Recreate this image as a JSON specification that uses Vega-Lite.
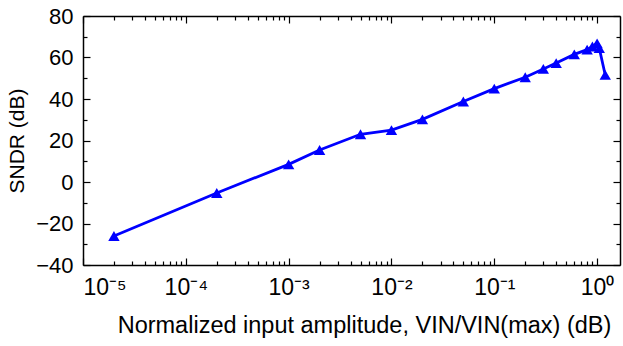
{
  "$schema": "https://vega.github.io/schema/vega-lite/v6.json",
  "width": 537,
  "height": 249,
  "autosize": "none",
  "padding": {"left": 83, "top": 16, "right": 3, "bottom": 81},
  "config": {
    "view": {"stroke": null},
    "axis": {
      "labelFont": "Liberation Sans",
      "titleFont": "Liberation Sans",
      "labelFontSize": 22,
      "titleFontSize": 22,
      "titleFontWeight": "normal",
      "labelColor": "black",
      "titleColor": "black",
      "tickColor": "black",
      "domainColor": "black",
      "domainWidth": 1.5,
      "tickWidth": 1.2,
      "grid": false
    }
  },
  "data": {
    "values": [
      {"amp": 0.00002, "sndr": -26},
      {"amp": 0.0002, "sndr": -5.3},
      {"amp": 0.001, "sndr": 8.5},
      {"amp": 0.002, "sndr": 15.4},
      {"amp": 0.005, "sndr": 23},
      {"amp": 0.01, "sndr": 25},
      {"amp": 0.02, "sndr": 30.2},
      {"amp": 0.05, "sndr": 38.8},
      {"amp": 0.1, "sndr": 45},
      {"amp": 0.2, "sndr": 50.5},
      {"amp": 0.3, "sndr": 54.5},
      {"amp": 0.4, "sndr": 57.3},
      {"amp": 0.6, "sndr": 61.5},
      {"amp": 0.8, "sndr": 63.8},
      {"amp": 0.9, "sndr": 65.3},
      {"amp": 1.0, "sndr": 66.8},
      {"amp": 1.05, "sndr": 64.5},
      {"amp": 1.2, "sndr": 51.6}
    ]
  },
  "layer": [
    {
      "mark": {"type": "line", "color": "#0000ff", "strokeWidth": 2.8},
      "encoding": {
        "x": {
          "field": "amp", "type": "quantitative",
          "scale": {"type": "log", "domain": [0.00001, 1.67], "nice": false},
          "axis": {
            "orient": "bottom",
            "values": [0.00001, 0.0001, 0.001, 0.01, 0.1, 1],
            "labelExpr": "['10⁻⁵','10⁻⁴','10⁻³','10⁻²','10⁻¹','10⁰'][round(log(datum.value)/LN10)+5]",
            "labelFontSize": 23,
            "tickSize": -7,
            "labelPadding": 18,
            "title": "Normalized input amplitude, VIN/VIN(max) (dB)",
            "titleFontSize": 23.5,
            "titlePadding": 14,
            "titleX": 281
          }
        },
        "y": {
          "field": "sndr", "type": "quantitative",
          "scale": {"domain": [-40, 80], "nice": false},
          "axis": {
            "orient": "left",
            "values": [-40, -20, 0, 20, 40, 60, 80],
            "tickSize": -7,
            "labelPadding": 17,
            "title": "SNDR (dB)",
            "titleFontSize": 21,
            "titlePadding": 8
          }
        }
      }
    },
    {
      "mark": {"type": "point", "shape": "triangle-up", "filled": true, "color": "#0000ff", "size": 130, "opacity": 1},
      "encoding": {
        "x": {
          "field": "amp", "type": "quantitative",
          "axis": {
            "orient": "bottom",
            "values": [0.00002,0.00003,0.00004,0.00005,0.00006,0.00007,0.00008,0.00009,0.0002,0.0003,0.0004,0.0005,0.0006,0.0007,0.0008,0.0009,0.002,0.003,0.004,0.005,0.006,0.007,0.008,0.009,0.02,0.03,0.04,0.05,0.06,0.07,0.08,0.09,0.2,0.3,0.4,0.5,0.6,0.7,0.8,0.9],
            "labels": false, "domain": false, "tickSize": -4, "title": null
          }
        },
        "y": {
          "field": "sndr", "type": "quantitative",
          "axis": {
            "orient": "left",
            "values": [-30, -10, 10, 30, 50, 70],
            "labels": false, "domain": false, "tickSize": -4, "title": null
          }
        }
      }
    },
    {
      "mark": {"type": "point", "opacity": 0},
      "encoding": {
        "x": {
          "field": "amp", "type": "quantitative",
          "axis": {"orient": "top", "values": [0.00001, 0.0001, 0.001, 0.01, 0.1, 1], "labels": false, "tickSize": -7, "title": null}
        },
        "y": {
          "field": "sndr", "type": "quantitative",
          "axis": {"orient": "right", "values": [-40, -20, 0, 20, 40, 60, 80], "labels": false, "tickSize": -7, "title": null}
        }
      }
    },
    {
      "mark": {"type": "point", "opacity": 0},
      "encoding": {
        "x": {
          "field": "amp", "type": "quantitative",
          "axis": {
            "orient": "top",
            "values": [0.00002,0.00003,0.00004,0.00005,0.00006,0.00007,0.00008,0.00009,0.0002,0.0003,0.0004,0.0005,0.0006,0.0007,0.0008,0.0009,0.002,0.003,0.004,0.005,0.006,0.007,0.008,0.009,0.02,0.03,0.04,0.05,0.06,0.07,0.08,0.09,0.2,0.3,0.4,0.5,0.6,0.7,0.8,0.9],
            "labels": false, "domain": false, "tickSize": -4, "title": null
          }
        },
        "y": {
          "field": "sndr", "type": "quantitative",
          "axis": {"orient": "right", "values": [-30, -10, 10, 30, 50, 70], "labels": false, "domain": false, "tickSize": -4, "title": null}
        }
      }
    }
  ],
  "resolve": {"axis": {"x": "independent", "y": "independent"}}
}
